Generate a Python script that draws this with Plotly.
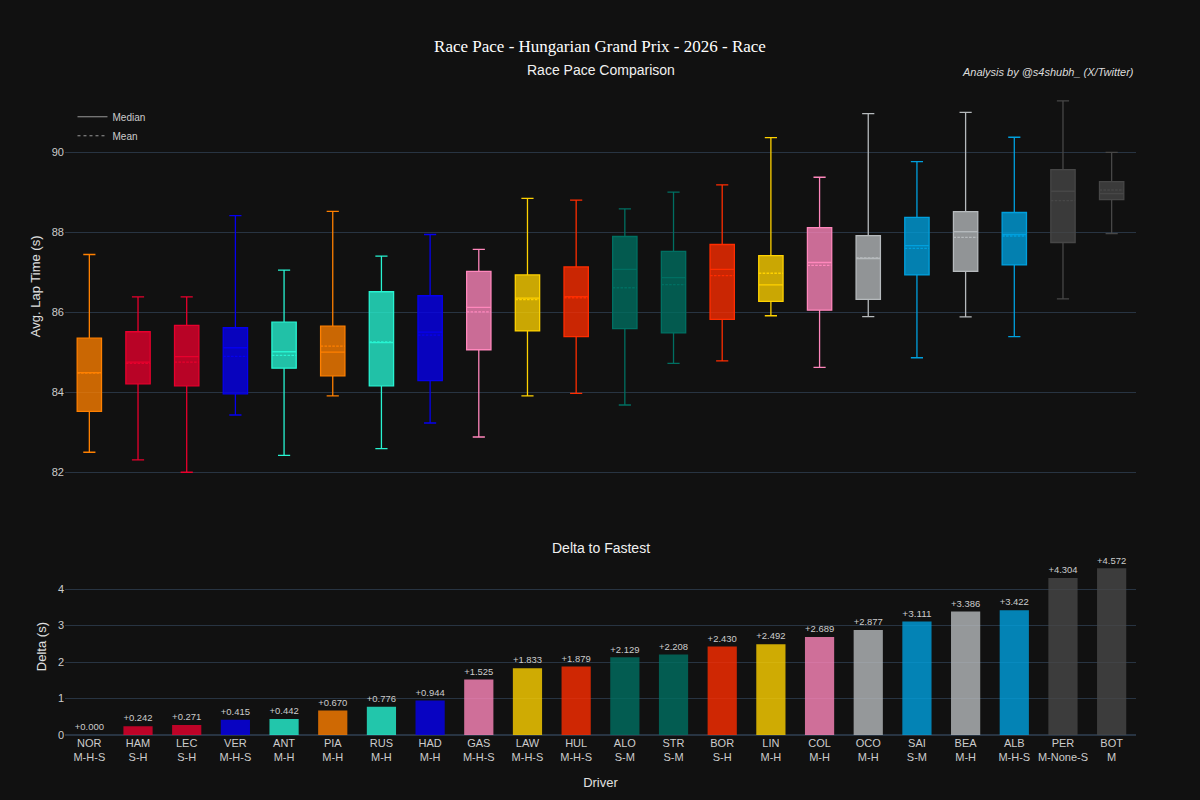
import plotly.graph_objects as go
from plotly.subplots import make_subplots

drivers = ["NOR", "HAM", "LEC", "VER", "ANT", "PIA", "RUS", "HAD", "GAS", "LAW", "HUL",
           "ALO", "STR", "BOR", "LIN", "COL", "OCO", "SAI", "BEA", "ALB", "PER", "BOT"]
compounds = ["M-H-S", "S-H", "S-H", "M-H-S", "M-H", "M-H", "M-H", "M-H", "M-H-S", "M-H-S", "M-H-S",
             "S-M", "S-M", "S-H", "M-H", "M-H", "M-H", "S-M", "M-H", "M-H-S", "M-None-S", "M"]
colors = ["#FF8000", "#E8002D", "#E8002D", "#0600EF", "#27F4D2", "#FF8000", "#27F4D2", "#0600EF",
          "#FF87BC", "#FFD200", "#FF2D00", "#006F62", "#006F62", "#FF2D00", "#FFD200", "#FF87BC",
          "#B6BABD", "#00A0DE", "#B6BABD", "#00A0DE", "#474747", "#474747"]

lower = [82.50, 82.31, 82.00, 83.43, 82.42, 83.91, 82.59, 83.23, 82.88, 83.91, 83.97,
         83.68, 84.72, 84.78, 85.91, 84.62, 85.89, 84.86, 85.88, 85.39, 86.33, 87.96]
q1 = [83.52, 84.21, 84.16, 83.96, 84.60, 84.41, 84.16, 84.29, 85.06, 85.53, 85.39,
      85.59, 85.48, 85.82, 86.27, 86.05, 86.32, 86.93, 87.02, 87.18, 87.74, 88.81]
median = [84.49, 84.75, 84.89, 85.11, 85.01, 85.00, 85.24, 85.50, 86.12, 86.35, 86.39,
          87.07, 86.86, 87.07, 86.68, 87.24, 87.34, 87.66, 88.01, 87.94, 89.02, 88.96]
q3 = [85.35, 85.51, 85.67, 85.61, 85.75, 85.65, 86.51, 86.41, 87.02, 86.93, 87.13,
      87.89, 87.52, 87.69, 87.41, 88.11, 87.91, 88.37, 88.51, 88.49, 89.56, 89.26]
upper = [87.44, 86.38, 86.38, 88.41, 87.05, 88.52, 87.40, 87.94, 87.57, 88.84, 88.80,
         88.58, 89.00, 89.18, 90.36, 89.37, 90.96, 89.76, 90.99, 90.37, 91.28, 89.99]
delta = [0.000, 0.242, 0.271, 0.415, 0.442, 0.670, 0.776, 0.944, 1.525, 1.833, 1.879,
         2.129, 2.208, 2.430, 2.492, 2.689, 2.877, 3.111, 3.386, 3.422, 4.304, 4.572]
base_mean = 84.48
mean = [round(base_mean + d, 3) for d in delta]

labels = [f"{d}<br>{c}" for d, c in zip(drivers, compounds)]


def rgba(h, a):
    h = h.lstrip("#")
    r, g, b = int(h[0:2], 16), int(h[2:4], 16), int(h[4:6], 16)
    return f"rgba({r},{g},{b},{a})"


fig = make_subplots(rows=2, cols=1, row_heights=[0.7, 0.3], vertical_spacing=0.1,
                    subplot_titles=("Race Pace Comparison", "Delta to Fastest"))

for i, lab in enumerate(labels):
    fig.add_trace(go.Box(
        x=[lab], q1=[q1[i]], median=[median[i]], q3=[q3[i]],
        lowerfence=[lower[i]], upperfence=[upper[i]], mean=[mean[i]],
        boxmean=True, boxpoints=False, width=0.5,
        line=dict(color=colors[i], width=1.3),
        fillcolor=rgba(colors[i], 0.78),
        showlegend=False, name=drivers[i], hoverinfo="skip",
    ), row=1, col=1)

fig.add_trace(go.Scatter(x=[None], y=[None], mode="lines", name="Median",
                         line=dict(color="#999999", width=1)), row=1, col=1)
fig.add_trace(go.Scatter(x=[None], y=[None], mode="lines", name="Mean",
                         line=dict(color="#999999", width=1, dash="dot")), row=1, col=1)

fig.add_trace(go.Bar(
    x=labels, y=delta,
    marker=dict(color=[rgba(c, 0.8) for c in colors], line=dict(width=0)),
    text=[f"+{d:.3f}" for d in delta], textposition="outside",
    textfont=dict(size=11, color="#cccccc"), cliponaxis=False,
    showlegend=False, width=0.6,
), row=2, col=1)

fig.update_layout(
    template="plotly_dark",
    width=1200, height=800,
    paper_bgcolor="#111111", plot_bgcolor="#111111",
    font=dict(family="Liberation Sans, Arial, sans-serif", size=12, color="#e0e0e0"),
    margin=dict(l=65, r=64, t=80, b=65),
    title=dict(text="Race Pace - Hungarian Grand Prix - 2026 - Race",
               x=0.5, xanchor="center", y=1 - 46 / 800, yanchor="middle",
               font=dict(family="Liberation Serif, Times New Roman, serif", size=17, color="#ffffff")),
    legend=dict(x=0.007, y=0.966, xanchor="left", yanchor="top", tracegroupgap=0,
                bgcolor="rgba(0,0,0,0)", font=dict(size=10, color="#cccccc")),
    boxmode="overlay",
    showlegend=True,
)

for ann in fig.layout.annotations:
    ann.font = dict(size=14, color="#f0f0f0", family="Liberation Sans, Arial, sans-serif")

fig.add_annotation(text="<i>Analysis by @s4shubh_ (X/Twitter)</i>", xref="paper", yref="paper",
                   x=1.0, y=1.012, xanchor="right", yanchor="middle", showarrow=False,
                   font=dict(size=11, color="#dddddd"))

fig.update_xaxes(showgrid=False, showticklabels=False, categoryorder="array",
                 categoryarray=labels, range=[-0.5, len(labels) - 0.5], row=1, col=1)
fig.update_xaxes(showgrid=False, categoryorder="array", categoryarray=labels,
                 range=[-0.5, len(labels) - 0.5],
                 tickfont=dict(size=11, color="#cccccc"),
                 title=dict(text="Driver", font=dict(size=13)), row=2, col=1)
fig.update_yaxes(range=[81.49, 91.8], dtick=2, gridcolor="#283442", zeroline=False,
                 tickfont=dict(size=11, color="#cccccc"),
                 title=dict(text="Avg. Lap Time (s)", font=dict(size=13), standoff=8), row=1, col=1)
fig.update_yaxes(range=[0, 4.85], dtick=1, gridcolor="#283442", zerolinecolor="#283442",
                 tickfont=dict(size=11, color="#cccccc"),
                 title=dict(text="Delta (s)", font=dict(size=13), standoff=8), row=2, col=1)

fig.write_html("out.html")
